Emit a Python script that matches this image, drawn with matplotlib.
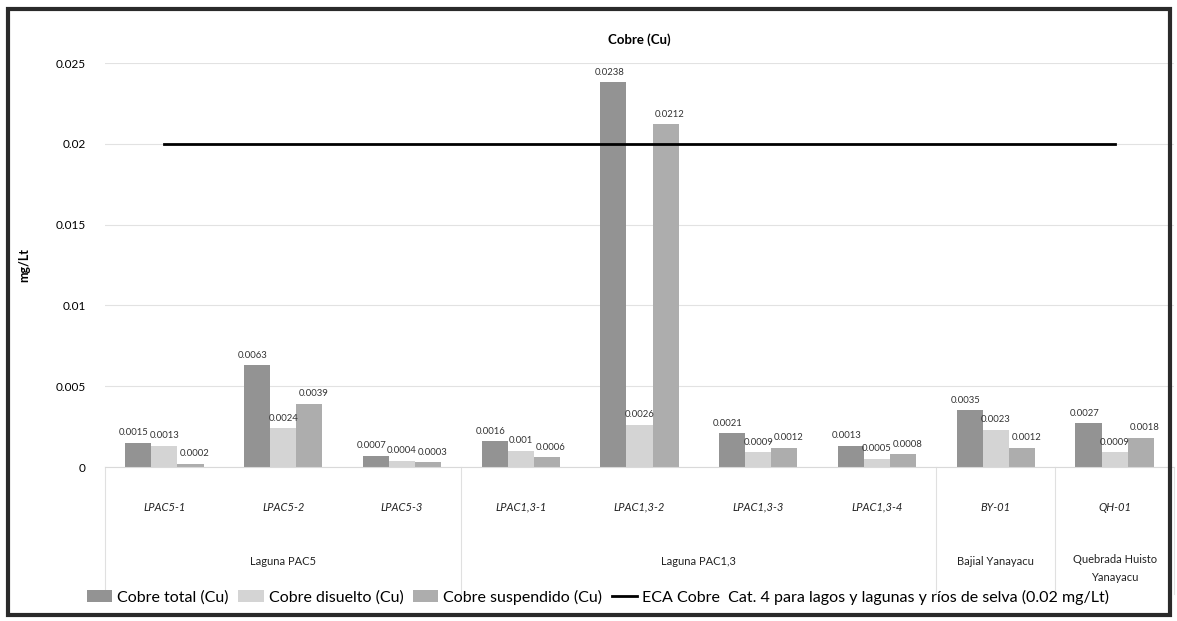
import matplotlib
matplotlib.use("Agg")
import matplotlib.pyplot as plt
import matplotlib.transforms as mtransforms
from matplotlib.patches import Rectangle
import numpy as np

plt.rcParams['font.family'] = ['Lato', 'DejaVu Sans']

sites = ["LPAC5-1", "LPAC5-2", "LPAC5-3", "LPAC1,3-1", "LPAC1,3-2",
         "LPAC1,3-3", "LPAC1,3-4", "BY-01", "QH-01"]
groups = ["Laguna PAC5", "Laguna PAC1,3", "Bajial Yanayacu", "Quebrada Huisto\nYanayacu"]
group_sizes = [3, 4, 1, 1]
cu_total = [0.0015, 0.0063, 0.0007, 0.0016, 0.0238, 0.0021, 0.0013, 0.0035, 0.0027]
cu_disuelto = [0.0013, 0.0024, 0.0004, 0.001, 0.0026, 0.0009, 0.0005, 0.0023, 0.0009]
cu_suspendido = [0.0002, 0.0039, 0.0003, 0.0006, 0.0212, 0.0012, 0.0008, 0.0012, 0.0018]
eca = [0.02] * len(sites)
series_names = ["Cobre total (Cu)", "Cobre disuelto (Cu)", "Cobre suspendido (Cu)"]
eca_name = "ECA Cobre  Cat. 4 para lagos y lagunas y ríos de selva (0.02 mg/Lt)"
yticks = [0, 0.005, 0.01, 0.015, 0.02, 0.025]
ytick_labels = ["0", "0.005", "0.01", "0.015", "0.02", "0.025"]

colors = ["#939393", "#d4d4d4", "#adadad"]

W, H = 1177, 621
fig = plt.figure(figsize=(W / 100, H / 100), dpi=100)
ax = fig.add_axes([105 / W, 1 - 467 / H, (1174 - 105) / W, (467 - 63) / H])

x = np.arange(len(sites))
bw = 0.22
handles = []
label_shift = [-3, 0, 3]
for i, (vals, c, name) in enumerate(zip([cu_total, cu_disuelto, cu_suspendido], colors, series_names)):
    b = ax.bar(x + (i - 1) * bw, vals, bw, color=c, label=name, zorder=2)
    handles.append(b)
    for xi, v in zip(x + (i - 1) * bw, vals):
        ax.annotate(f"{v:g}", (xi, v), xytext=(label_shift[i], 4), textcoords="offset points",
                    ha="center", va="bottom", fontsize=6.8, color="#333333")

ln, = ax.plot(x, eca, color="black", lw=2, label=eca_name, zorder=3)
handles.append(ln)

ax.set_xlim(-0.5, len(sites) - 0.5)
ax.set_ylim(0, 0.025)
ax.set_yticks(yticks)
ax.set_yticklabels(ytick_labels, fontsize=8.5)
ax.tick_params(axis='y', length=0, pad=14)
ax.grid(axis='y', color="#e2e2e2", lw=0.8, zorder=0)
for s in ["top", "right", "left"]:
    ax.spines[s].set_visible(False)
ax.spines["bottom"].set_color("#d9d9d9")
ax.set_xticks([])

ax.set_ylabel("mg/Lt", fontsize=9, fontweight="bold", labelpad=18)
ax.set_title("Cobre (Cu)", fontsize=9.5, fontweight="bold", pad=14)

trans = mtransforms.blended_transform_factory(ax.transData, ax.transAxes)
for xi, s in zip(x, sites):
    ax.text(xi, -0.1, s, transform=trans, ha="center", va="center",
            fontsize=8, style="italic", color="#222222")

edges = np.cumsum([0] + group_sizes) - 0.5
for g, a, b in zip(groups, edges[:-1], edges[1:]):
    if "\n" in g:
        ax.text((a + b) / 2, -0.215, g, transform=trans, ha="center", va="top",
                fontsize=8, color="#222222", linespacing=1.8)
    else:
        ax.text((a + b) / 2, -0.235, g, transform=trans, ha="center", va="center",
                fontsize=8, color="#222222")
for e in edges:
    ax.plot([e, e], [0, -0.315], transform=trans, color="#e0e0e0", lw=0.8, clip_on=False)

fig.legend(handles=handles, loc="center", bbox_to_anchor=(598 / W, 1 - 597 / H), ncol=4,
           frameon=False, fontsize=11.5, handlelength=1.6, handletextpad=0.3, columnspacing=0.6)

fig.patches.append(Rectangle((8 / W, 6 / H), (1170 - 8) / W, (612 - 6) / H,
                             transform=fig.transFigure, fill=False, edgecolor="#2a2a2a", lw=3))

fig.savefig("out.png", dpi=100)
